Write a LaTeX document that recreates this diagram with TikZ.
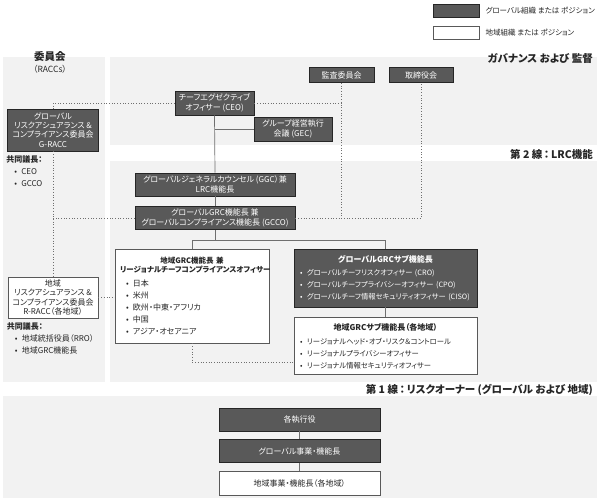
\documentclass[tikz,border=0pt]{standalone}
\usepackage{fontspec}
\setmainfont{Noto Sans CJK JP}[RawFeature=+palt]
\usetikzlibrary{positioning}

\definecolor{panelgray}{HTML}{F2F2F2}
\definecolor{boxgray}{HTML}{595959}
\definecolor{edgegray}{HTML}{262626}
\definecolor{linkgray}{HTML}{6F6F6F}
\definecolor{textgray}{HTML}{262626}

\newcommand{\itm}{\makebox[7pt][l]{•}}

\tikzset{
  panel/.style={fill=panelgray, draw=none},
  globalbox/.style={draw=edgegray, fill=boxgray, text=white, line width=0.9pt,
    align=center, inner sep=1pt, font=\fontsize{8}{10}\selectfont},
  localbox/.style={draw=boxgray, fill=white, text=textgray, line width=0.8pt,
    align=center, inner sep=1pt, font=\fontsize{8}{10}\selectfont},
  listbox/.style={align=left, font=\fontsize{7.3}{12}\selectfont},
  sectiontitle/.style={font=\fontsize{10.5}{12}\selectfont\bfseries, text=textgray, inner sep=0pt},
  legendtext/.style={font=\fontsize{7.5}{10}\selectfont, text=textgray, inner sep=0pt},
  cochair/.style={align=left, inner sep=0pt, text=textgray, font=\fontsize{8}{12}\selectfont},
  solidlink/.style={draw=linkgray, line width=0.7pt},
  dottedlink/.style={draw=linkgray, line width=0.7pt, dotted},
}

\begin{document}
\begin{tikzpicture}[x=1pt, y=-1pt]
    \useasboundingbox (0,0) rectangle (600,500);
    % background panels
    \fill[panel] (3,57) rectangle (105,382);
    \fill[panel] (110,57) rectangle (597,145);
    \fill[panel] (110,161) rectangle (597,382);
    \fill[panel] (3,396) rectangle (597,498);

    % legend
    \node[globalbox, minimum width=46, minimum height=13] (legglobal) at (456,11) {};
    \node[legendtext, right=6pt of legglobal] (legglobaltxt) {グローバル組織 または ポジション};
    \node[localbox, minimum width=46, minimum height=13] (leglocal) at (456,33) {};
    \node[legendtext, right=6pt of leglocal] (leglocaltxt) {地域組織 または ポジション};

    % section titles
    \node[sectiontitle, anchor=east] (govtitle) at (593,59) {ガバナンス および 監督};
    \node[sectiontitle, anchor=east] (lrctitle) at (593,154) {第 2 線\,：\,LRC機能};
    \node[sectiontitle, anchor=east] (risktitle) at (593,390) {第 1 線\,：\,リスクオーナー (グローバル および 地域)};
    \node[sectiontitle] (racctitle) at (50,57) {委員会};
    \node[legendtext, font=\fontsize{8.5}{10}\selectfont, below=3pt of racctitle] (raccsub) {（RACCs）};

    % governance
    \node[globalbox, minimum width=79, minimum height=24] (ceo) at (214.5,103) {チーフエグゼクティブ\\オフィサー (CEO)};
    \node[globalbox, minimum width=78, minimum height=24] (gec) at (293,129) {グループ経営執行\\会議 (GEC)};
    \node[globalbox, minimum width=65, minimum height=15] (audit) at (341.5,75) {監査委員会};
    \node[globalbox, minimum width=64, minimum height=15] (board) at (421,75) {取締役会};

    % committees
    \node[globalbox, minimum width=91, minimum height=42, font=\fontsize{8}{9.3}\selectfont] (gracc) at (53,130)
        {グローバル\\リスクアシュアランス \&\\コンプライアンス委員会\\G-RACC};
    \node[cochair, below right=4pt and -1pt of gracc.south west] (gcochair)
        {\textbf{共同議長：}\\\hspace*{8pt}\itm CEO\\\hspace*{8pt}\itm GCCO};
    \node[localbox, minimum width=90, minimum height=41, font=\fontsize{8}{9.3}\selectfont] (rracc) at (53,297.5)
        {地域\\リスクアシュアランス \&\\コンプライアンス委員会\\R-RACC（各地域）};
    \node[cochair, below right=4pt and -1pt of rracc.south west] (rcochair)
        {\textbf{共同議長：}\\\hspace*{8pt}\itm 地域統括役員（RRO）\\\hspace*{8pt}\itm 地域GRC機能長};

    % second line
    \node[globalbox, minimum width=160, minimum height=23] (ggc) at (215,184.5)
        {グローバルジェネラルカウンセル (GGC）兼\\LRC機能長};
    \node[globalbox, minimum width=160, minimum height=23, below=10pt of ggc] (gcco)
        {グローバルGRC機能長 兼\\グローバルコンプライアンス機能長 (GCCO)};
    \node[localbox, listbox, font=\fontsize{8}{12}\selectfont, minimum width=154, minimum height=94, text width=144] (reggrc) at (192,296)
        {{\centering\bfseries\fontsize{7.5}{8.5}\selectfont 地域GRC機能長 兼\\リージョナルチーフコンプライアンスオフィサー\par}\vspace{2pt}
        \hspace*{6pt}\itm 日本\\\hspace*{6pt}\itm 米州\\\hspace*{6pt}\itm 欧州・中東・アフリカ\\\hspace*{6pt}\itm 中国\\\hspace*{6pt}\itm アジア・オセアニア};
    \node[globalbox, listbox, minimum width=183, minimum height=58, text width=171] (globsub) at (385.5,278)
        {{\centering\bfseries\fontsize{8}{10}\selectfont グローバルGRCサブ機能長\par}\vspace{1pt}
        \itm グローバルチーフリスクオフィサー~(CRO)\\\itm グローバルチーフプライバシーオフィサー~(CPO)\\\itm グローバルチーフ情報セキュリティオフィサー~(CISO)};
    \node[localbox, listbox, minimum width=183, minimum height=57, text width=171, below=10pt of globsub] (regsub)
        {{\centering\bfseries\fontsize{8}{10}\selectfont 地域GRCサブ機能長（各地域）\par}\vspace{2pt}
        \itm リージョナルヘッド・オブ・リスク＆コントロール\\\itm リージョナルプライバシーオフィサー\\\itm リージョナル情報セキュリティオフィサー};

    % first line
    \node[globalbox, minimum width=161, minimum height=23] (exec) at (299.5,419.5) {各執行役};
    \node[globalbox, minimum width=161, minimum height=23, below=8pt of exec] (gbf) {グローバル事業・機能長};
    \node[localbox, minimum width=161, minimum height=24, below=8pt of gbf] (rbf) {地域事業・機能長（各地域）};

    % dotted links
    \draw[dottedlink] (ceo.west) -| (gracc.north);
    \draw[dottedlink] (gracc.south) -- (rracc.north);
    \draw[dottedlink] (gcco.west) -- (gcco.west -| gracc.south);
    \draw[dottedlink] (ceo.east) -- (ceo.east -| audit.south);
    \draw[dottedlink] (audit.south) -- (audit.south |- gcco.east);
    \draw[dottedlink] (gcco.east) -| (board.south);
    \draw[dottedlink] (rracc.east) -- (rracc.east -| reggrc.west);
    \draw[dottedlink] (reggrc.south) |- ([yshift=-15.5pt]regsub.west);

    % solid links
    \draw[solidlink] (ceo.south) -- (ggc.north);
    \draw[solidlink] (ceo.south |- gec.west) -- (gec.west);
    \draw[solidlink] (ggc.south) -- (gcco.north);
    \draw[solidlink] (gcco.south) -- ++(0,10) coordinate (grcsplit);
    \draw[solidlink] (reggrc.north) |- (grcsplit) -| (globsub.north);
    \draw[solidlink] (globsub.south) -- (regsub.north);
    \draw[solidlink] (exec.south) -- (gbf.north);
    \draw[solidlink] (gbf.south) -- (rbf.north);
\end{tikzpicture}
\end{document}
